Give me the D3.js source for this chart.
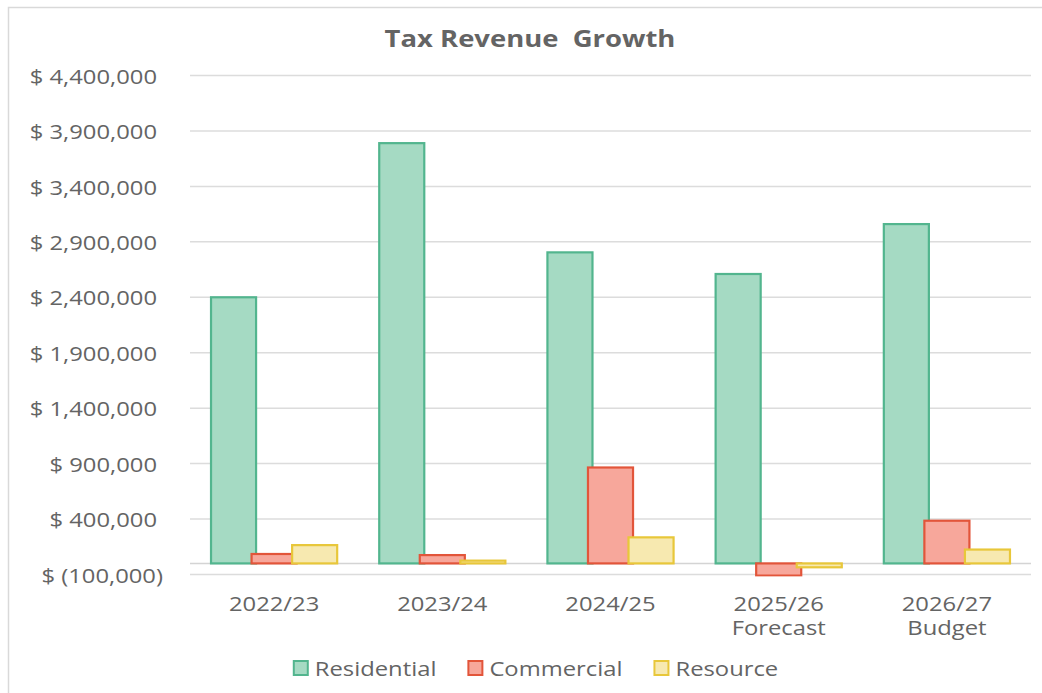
<!DOCTYPE html>
<html>
<head>
<meta charset="utf-8">
<script src="https://cdn.jsdelivr.net/npm/d3@7"></script>
<style>
  html, body { margin: 0; padding: 0; background: #ffffff; }
  svg { display: block; }
  text { font-family: "Open Sans", "Noto Sans", sans-serif; fill: #646464; }
</style>
</head>
<body>
<svg id="chart" width="1042" height="693"></svg>
<script>
// Fiscal years (second line of the label, if any, after "|")
const categories = ["2022/23", "2023/24", "2024/25", "2025/26|Forecast", "2026/27|Budget"];
const seriesNames = ["Residential", "Commercial", "Resource"];
const residential = [2400000, 3790000, 2805000, 2610000, 3060000];
const commercial = [85000, 75000, 865000, -110000, 385000];
const resource = [165000, 25000, 235000, -35000, 125000];
const yTicks = [-100000, 400000, 900000, 1400000, 1900000, 2400000, 2900000, 3400000, 3900000, 4400000];

const seriesValues = [residential, commercial, resource];
const fills = ["#a5dac3", "#f7a79b", "#f7e9b0"];
const strokes = ["#52b58e", "#e2553a", "#e8c73a"];
const textColor = "#646464";

const W = 1042, H = 693;
const plotLeft = 190, plotRight = 1031, plotTop = 75.5, plotBottom = 574.5;
const sx = 1.22;     // horizontal text stretch
const fontSize = 19.5;

const svg = d3.select("#chart");

// outer frame
svg.append("rect")
  .attr("x", 8.5).attr("y", 7.5)
  .attr("width", W).attr("height", H)
  .attr("fill", "#ffffff")
  .attr("stroke", "#d9d9d9").attr("stroke-width", 1.5);

const y = d3.scaleLinear().domain([yTicks[0], yTicks[yTicks.length - 1]]).range([plotBottom, plotTop]);
const x0 = d3.scaleBand().domain(categories).range([plotLeft, plotRight]).paddingInner(0.25).paddingOuter(0.125);
const groupW = x0.bandwidth();
const overlap = 0.1;
const barW = groupW / (1 + (seriesNames.length - 1) * (1 - overlap));
const barStep = barW * (1 - overlap);

// horizontal gridlines
svg.append("g")
  .selectAll("line")
  .data(yTicks)
  .join("line")
  .attr("x1", plotLeft).attr("x2", plotRight)
  .attr("y1", d => y(d)).attr("y2", d => y(d))
  .attr("stroke", "#dcdcdc").attr("stroke-width", 1.5);

// zero baseline
svg.append("line")
  .attr("x1", plotLeft).attr("x2", plotRight)
  .attr("y1", y(0)).attr("y2", y(0))
  .attr("stroke", "#d4d4d4").attr("stroke-width", 1.5);

// y axis labels (accounting style)
const fmt = d3.format(",");
const yAxis = d3.axisLeft(y).tickValues(yTicks).tickSize(0)
  .tickFormat(d => d < 0 ? "$ (" + fmt(-d) + ")" : "$ " + fmt(d));
const gy = svg.append("g").attr("transform", `translate(${plotLeft},0)`).call(yAxis);
gy.select(".domain").remove();
gy.selectAll(".tick text")
  .attr("x", null).attr("dy", null)
  .attr("font-size", fontSize)
  .attr("font-family", "Open Sans, sans-serif")
  .attr("fill", textColor)
  .attr("dominant-baseline", "central")
  .attr("text-anchor", "end")
  .attr("transform", d => `translate(${d < 0 ? -27 : -33},0) scale(${sx},1)`);

// clip bars to plot area
svg.append("clipPath").attr("id", "plotClip")
  .append("rect").attr("x", plotLeft).attr("y", plotTop)
  .attr("width", plotRight - plotLeft).attr("height", plotBottom - plotTop + 2);

// bars: each series drawn over the previous one
const barsG = svg.append("g").attr("clip-path", "url(#plotClip)");
seriesNames.forEach((name, si) => {
  barsG.append("g")
    .selectAll("rect")
    .data(seriesValues[si].map((v, i) => ({ cat: categories[i], v })))
    .join("rect")
    .attr("x", d => x0(d.cat) + si * barStep)
    .attr("width", barW)
    .attr("y", d => Math.min(y(d.v), y(0)))
    .attr("height", d => Math.abs(y(d.v) - y(0)))
    .attr("fill", fills[si])
    .attr("stroke", strokes[si])
    .attr("stroke-width", 2.2);
});

// x axis labels
const xAxis = d3.axisBottom(x0).tickSize(0).tickFormat("");
const gx = svg.append("g").attr("transform", `translate(0,${plotBottom})`).call(xAxis);
gx.select(".domain").remove();
gx.selectAll(".tick").each(function (d) {
  const lines = d.split("|");
  const t = d3.select(this).append("text")
    .attr("text-anchor", "middle")
    .attr("font-size", fontSize)
    .attr("fill", textColor)
    .attr("transform", `scale(${sx},1)`);
  lines.forEach((ln, k) => {
    t.append("tspan").attr("x", 0).attr("y", 37 + k * 24).text(ln);
  });
});

// title
svg.append("text")
  .attr("transform", `translate(530,47) scale(${sx},1)`)
  .attr("text-anchor", "middle")
  .attr("font-size", 22.5)
  .attr("font-weight", "bold")
  .attr("fill", textColor)
  .style("white-space", "pre")
  .text("Tax Revenue  Growth");

// legend
const legend = svg.append("g").attr("transform", "translate(0,668)");
const items = legend.selectAll("g").data(seriesNames).join("g");
items.append("rect")
  .attr("x", 0).attr("y", -7).attr("width", 14).attr("height", 14)
  .attr("fill", (d, i) => fills[i]).attr("stroke", (d, i) => strokes[i]).attr("stroke-width", 2);
items.append("text")
  .attr("transform", `translate(21,0) scale(${sx},1)`)
  .attr("dominant-baseline", "central")
  .attr("font-size", fontSize)
  .attr("fill", textColor)
  .text(d => d);
const widths = items.nodes().map(n => 21 + n.querySelector("text").getComputedTextLength() * sx);
const gap = 32;
const total = d3.sum(widths) + gap * (widths.length - 1);
let cx = 536 - total / 2;
items.attr("transform", (d, i) => {
  const tx = cx; cx += widths[i] + gap; return `translate(${tx},0)`;
});
</script>
</body>
</html>
